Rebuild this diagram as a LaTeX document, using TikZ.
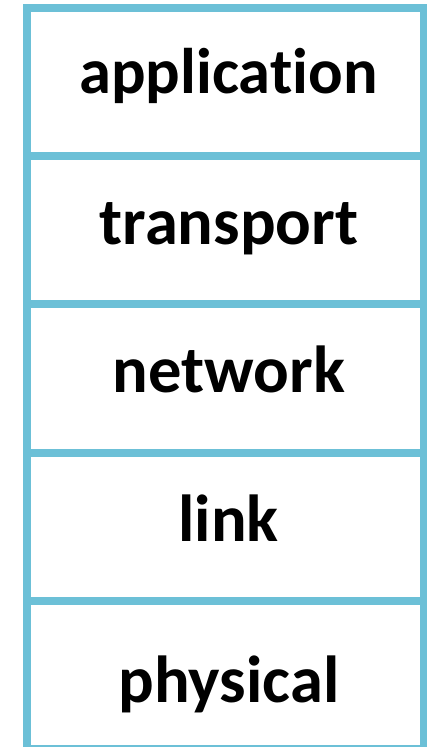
\documentclass[tikz,border=0pt]{standalone}
\usepackage{fontspec}
\setmainfont{Carlito}[Ligatures={NoCommon},RawFeature={-liga;-calt}]
\usepackage{tikz}
\usetikzlibrary{positioning}
\definecolor{layerBlue}{HTML}{6CC0D7}

\tikzset{
  layer/.style={draw=layerBlue,line width=8pt,fill=white,outer sep=0pt,
                minimum width=397pt,minimum height=148.2pt,inner sep=0pt},
  layerText/.style={anchor=base,inner sep=0pt,
                font=\fontsize{66.5}{70}\selectfont\bfseries}
}

\begin{document}
\begin{tikzpicture}
    \useasboundingbox (0,0) rectangle (427pt,-747pt);
    % protocol stack, top to bottom
    \node[layer] (app) at (225.5pt,-82.1pt) {};
    \node[layer,below=0pt of app] (trans) {};
    \node[layer,below=0pt of trans] (net) {};
    \node[layer,below=0pt of net] (lnk) {};
    \node[layer,below=0pt of lnk] (phys) {};
    % layer names
    \node[layerText,font=\fontsize{64.5}{70}\selectfont\bfseries] (appName)
      at ([xshift=3pt,yshift=-11.5pt]app.center) {application};
    \node[layerText] (transName) at ([xshift=3.5pt,yshift=-14pt]trans.center) {transport};
    \node[layerText] (netName) at ([xshift=3.5pt,yshift=-14pt]net.center) {network};
    \node[layerText] (lnkName) at ([xshift=3pt,yshift=-14.5pt]lnk.center) {link};
    \node[layerText] (physName) at ([xshift=3.5pt,yshift=-27.5pt]phys.center) {physical};
  \end{tikzpicture}
\end{document}
